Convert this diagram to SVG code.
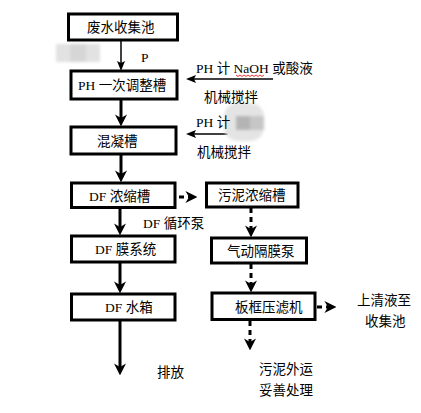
<svg xmlns="http://www.w3.org/2000/svg" width="421" height="413" viewBox="0 0 421 413">
<style>
.box{fill:#fff;stroke:#000;stroke-width:3}
.t{font-family:"Liberation Serif","Noto Sans CJK SC",serif;font-size:13.5px;fill:#000;dominant-baseline:central}
.ln{stroke:#000;stroke-width:3;fill:none}
.thin{stroke:#000;stroke-width:1.5;fill:none}
.dash{stroke:#000;stroke-width:3;fill:none;stroke-dasharray:5 4}
</style>
<defs>
<marker id="ah" markerUnits="userSpaceOnUse" markerWidth="12" markerHeight="12" viewBox="0 0 10 10" refX="3" refY="5" orient="auto">
<path d="M0,0 L10,5 L0,10 L3,5 Z" fill="#000"/>
</marker>
<marker id="ahs" markerUnits="userSpaceOnUse" markerWidth="10" markerHeight="8" viewBox="0 0 10 8" refX="2" refY="4" orient="auto">
<path d="M0,0 L10,4 L0,8 L2,4 Z" fill="#000"/>
</marker>
<filter id="bl" x="-20%" y="-20%" width="140%" height="140%"><feGaussianBlur stdDeviation="1.5"/></filter>
</defs>
<rect width="421" height="413" fill="#fff"/>
<g id="connectors">
<line class="thin" x1="121" y1="41" x2="121" y2="63" marker-end="url(#ahs)"/>
<line class="ln" x1="121" y1="99" x2="121" y2="118" marker-end="url(#ah)"/>
<line class="ln" x1="121" y1="155" x2="121" y2="174" marker-end="url(#ah)"/>
<line class="ln" x1="120" y1="208" x2="120" y2="227" marker-end="url(#ah)"/>
<line class="ln" x1="120" y1="263" x2="120" y2="285" marker-end="url(#ah)"/>
<line class="ln" x1="120" y1="321" x2="120" y2="367" marker-end="url(#ah)"/>
<line class="dash" x1="179" y1="197" x2="189" y2="197" marker-end="url(#ah)"/>
<line class="dash" x1="251" y1="208" x2="251" y2="229" marker-end="url(#ah)"/>
<line class="dash" x1="251" y1="264" x2="251" y2="284" marker-end="url(#ah)"/>
<line class="dash" x1="317" y1="307" x2="328" y2="307" marker-end="url(#ah)"/>
<line class="dash" x1="250" y1="321" x2="250" y2="342" marker-end="url(#ah)"/>
<line class="thin" x1="273" y1="79" x2="194" y2="79" stroke-width="2" marker-end="url(#ahs)"/>
<line class="thin" x1="228" y1="134" x2="194" y2="134" stroke-width="2" marker-end="url(#ahs)"/>
</g>
<g id="blur1" filter="url(#bl)">
<rect x="56" y="44" width="44" height="18" fill="#e2e2e2"/>
<rect x="70" y="44" width="16" height="18" fill="#d6d6d6"/>
</g>
<g id="blur2" filter="url(#bl)">
<rect x="224" y="103" width="40" height="38" rx="14" fill="#e4e4e4"/>
<rect x="236" y="116" width="14" height="14" fill="#b4b4b4"/>
<rect x="250" y="116" width="14" height="14" fill="#c6c6c6"/>
</g>
<g id="n1"><rect class="box" x="68.5" y="14" width="109" height="26"/><text class="t" x="87" y="27">废水收集池</text></g>
<g id="n2"><rect class="box" x="71" y="71" width="106" height="28"/><text class="t" x="78" y="85">PH 一次调整槽</text></g>
<g id="n3"><rect class="box" x="71" y="127" width="105" height="27"/><text class="t" x="97" y="141">混凝槽</text></g>
<g id="n4"><rect class="box" x="71.5" y="183" width="103.5" height="24.5"/><text class="t" x="89" y="196">DF 浓缩槽</text></g>
<g id="n5"><rect class="box" x="206.5" y="183" width="91.5" height="24"/><text class="t" x="218" y="195">污泥浓缩槽</text></g>
<g id="n6"><rect class="box" x="71.5" y="236" width="103.5" height="26"/><text class="t" x="95" y="249">DF 膜系统</text></g>
<g id="n7"><rect class="box" x="211.5" y="238" width="95" height="25"/><text class="t" x="227" y="251">气动隔膜泵</text></g>
<g id="n8"><rect class="box" x="71.5" y="294" width="103.5" height="26"/><text class="t" x="105" y="307">DF 水箱</text></g>
<g id="n9"><rect class="box" x="212" y="293" width="103" height="26.5"/><text class="t" x="235" y="307">板框压滤机</text></g>
<g id="labels">
<text class="t" x="141" y="57">P</text>
<text class="t" x="196" y="68">PH 计 <tspan text-decoration="none">NaOH</tspan> 或酸液</text>
<path d="M236,75 l2,1.5 l2,-1.5 l2,1.5 l2,-1.5 l2,1.5 l2,-1.5 l2,1.5 l2,-1.5 l2,1.5 l2,-1.5 l2,1.5 l2,-1.5 l2,1.5 l2,-1.5" fill="none" stroke="#e00" stroke-width="0.8"/>
<text class="t" x="204" y="97">机械搅拌</text>
<text class="t" x="196" y="122">PH 计</text>
<text class="t" x="197" y="152">机械搅拌</text>
<text class="t" x="143" y="223">DF 循环泵</text>
<text class="t" x="357" y="300">上清液至</text>
<text class="t" x="365" y="321">收集池</text>
<text class="t" x="157" y="372">排放</text>
<text class="t" x="259" y="369">污泥外运</text>
<text class="t" x="259" y="390">妥善处理</text>
</g>
</svg>
